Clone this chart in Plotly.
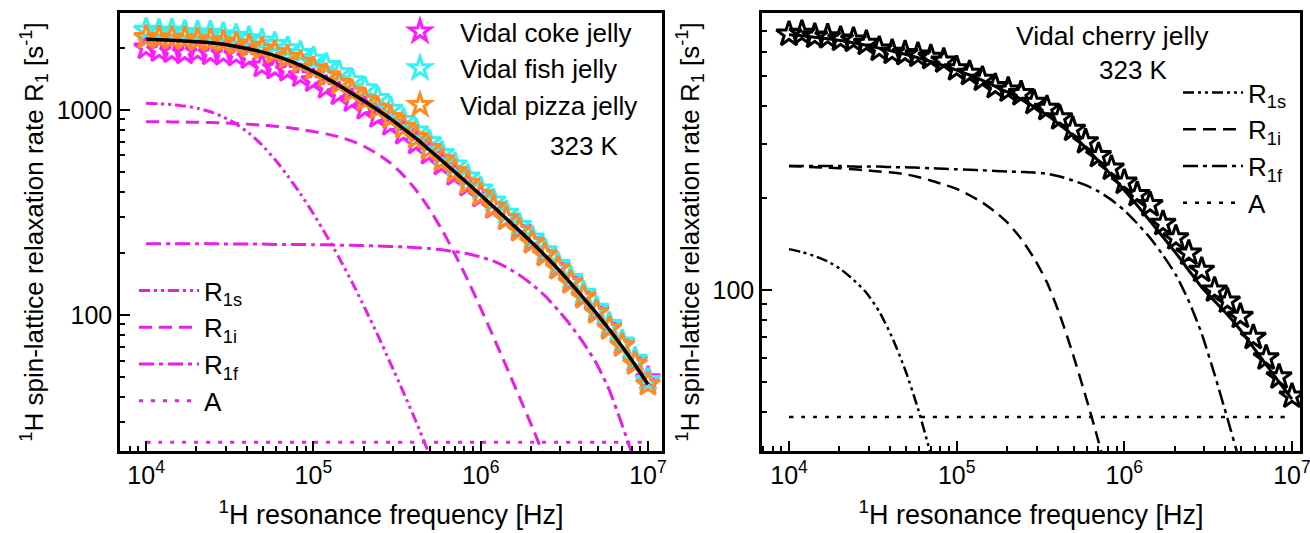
import plotly.graph_objects as go

# Proton Larmor frequencies [Hz], 13 points per decade
freq = [1.000e4, 1.194e4, 1.425e4, 1.701e4, 2.031e4, 2.424e4, 2.894e4, 3.455e4, 4.125e4, 4.924e4,
        5.878e4, 7.017e4, 8.377e4, 1.000e5, 1.194e5, 1.425e5, 1.701e5, 2.031e5, 2.424e5, 2.894e5,
        3.455e5, 4.125e5, 4.924e5, 5.878e5, 7.017e5, 8.377e5, 1.000e6, 1.194e6, 1.425e6, 1.701e6,
        2.031e6, 2.424e6, 2.894e6, 3.455e6, 4.125e6, 4.924e6, 5.878e6, 7.017e6, 8.377e6, 1.000e7]

# --- Left panel: three jellies at 323 K ---
coke_r1 = [2010, 1950, 1920, 1900, 1930, 1880, 1870, 1850, 1800, 1640, 1600, 1560, 1470, 1390, 1290,
           1200, 1110, 1020, 930, 850, 770, 690, 615, 545, 485, 430, 380, 335, 295, 262,
           228, 198, 171, 146, 124, 105, 88, 73, 60, 49]
fish_r1 = [2450, 2420, 2430, 2390, 2380, 2370, 2330, 2290, 2230, 2170, 2090, 1990, 1890, 1770, 1650,
           1520, 1390, 1270, 1140, 1010, 890, 790, 700, 615, 540, 472, 412, 360, 314, 274,
           238, 206, 177, 151, 128, 108, 90, 74, 61, 48]
pizza_r1 = [2260, 2250, 2240, 2230, 2200, 2180, 2150, 2100, 2050, 1990, 1910, 1810, 1710, 1590, 1470,
            1350, 1230, 1120, 1020, 920, 825, 735, 650, 572, 502, 440, 386, 338, 296, 259,
            226, 196, 169, 144, 122, 103, 86, 71, 58, 46]
fit_left = [2210, 2200, 2190, 2170, 2150, 2125, 2090, 2040, 1985, 1920, 1840, 1750, 1650, 1540, 1430,
            1315, 1205, 1100, 1000, 905, 812, 725, 640, 565, 498, 438, 385, 337, 295, 258,
            225, 195, 168, 143, 121, 102, 85, 70, 57, 46]
r1s_left = [1078, 1072, 1062, 1045, 1020, 980, 925, 855, 770, 675, 575, 478, 390, 312, 245,
            190, 145, 108, 80, 58, 42, 30, 21, 15]
r1i_left = [877, 876, 875, 873, 871, 868, 864, 859, 852, 844, 834, 821, 805, 785, 765,
            740, 705, 662, 610, 550, 480, 405, 330, 260, 198, 148, 108, 78, 56, 40,
            28.5, 20]
r1f_left = [223, 223, 223, 223, 223, 223, 222, 222, 222, 222, 221, 221, 221, 220, 220,
            219, 219, 218, 217, 216, 215, 213, 211, 208, 204, 199, 192, 183, 171, 157,
            141, 124, 106, 89, 73, 58, 43, 29, 19, 12]
a_left = 24

# --- Right panel: cherry jelly at 323 K ---
cherry_r1 = [685, 690, 675, 672, 660, 655, 640, 612, 598, 592, 585, 575, 560, 528, 510,
             488, 462, 450, 438, 410, 392, 365, 335, 305, 275, 250, 225, 205, 190, 165,
             148, 132, 116, 100, 92, 82, 70, 60, 52, 45]
fit_right = [682, 677, 670, 662, 653, 642, 630, 617, 603, 589, 574, 558, 541, 523, 504,
             484, 463, 442, 420, 397, 373, 347, 320, 292, 264, 237, 212, 189, 168, 149,
             132, 116, 102, 92, 83, 74, 65, 57, 50, 44]
r1s_right = [136, 133, 129, 124, 117, 108, 98, 85, 70, 55, 41, 29, 20]
r1i_right = [254, 253, 252, 251, 250, 248, 246, 244, 242, 239, 234, 228, 221, 214, 204,
             193, 180, 165, 147, 127, 106, 83, 62, 45, 32, 22]
r1f_right = [254, 254, 254, 254, 254, 253, 253, 253, 252, 252, 251, 250, 249, 248, 247,
             246, 245, 244, 243, 242, 240, 235, 228, 220, 210, 197, 182, 165, 148, 130,
             112, 92, 72, 53, 38, 27, 19]
a_right = 38.5

x_tickvals = [1e4, 1e5, 1e6, 1e7]
x_ticktext = ["10<sup>4</sup>", "10<sup>5</sup>", "10<sup>6</sup>", "10<sup>7</sup>"]
x_minor = [k * 10 ** e for e in range(3, 7) for k in range(2, 10)]
y_minor = [k * 10 ** e for e in range(1, 4) for k in range(2, 10)]

MAGENTA = "#e61ee6"
FONT = "Liberation Sans, Arial, sans-serif"

fig = go.Figure()

def stars(y, color, name, xa, ya, legend, size, show=True):
    fig.add_trace(go.Scatter(
        x=freq, y=y, mode="markers", name=name, xaxis=xa, yaxis=ya, legend=legend,
        showlegend=show,
        marker=dict(symbol="star-open", size=size, color=color, line=dict(width=3, color=color))))

def curve(y, color, dash, width, name, xa, ya, legend, show=True):
    fig.add_trace(go.Scatter(
        x=freq[:len(y)], y=y, mode="lines", name=name, xaxis=xa, yaxis=ya, legend=legend,
        showlegend=show, line=dict(color=color, dash=dash, width=width, shape="spline", smoothing=0.6)))

DASH_S = "11px,4px,3px,4px,3px,4px"
DASH_I = "13px,7px"
DASH_F = "15px,5px,4px,5px"
DASH_A = "4px,8px"

# left panel
stars(coke_r1, "#ff1aff", "Vidal coke jelly", "x", "y", "legend", 18)
stars(fish_r1, "#33f2f2", "Vidal fish jelly", "x", "y", "legend", 18)
stars(pizza_r1, "#ff8a1f", "Vidal pizza jelly", "x", "y", "legend", 18)
curve(fit_left, "black", "solid", 3.5, "fit", "x", "y", "legend", show=False)
curve(r1s_left, MAGENTA, DASH_S, 3, "R<sub>1s</sub>", "x", "y", "legend2")
curve(r1i_left, MAGENTA, DASH_I, 3, "R<sub>1i</sub>", "x", "y", "legend2")
curve(r1f_left, MAGENTA, DASH_F, 3, "R<sub>1f</sub>", "x", "y", "legend2")
curve([a_left] * len(freq), MAGENTA, DASH_A, 3, "A", "x", "y", "legend2")

# right panel
stars(cherry_r1, "black", "Vidal cherry jelly", "x2", "y2", "legend3", 19, show=False)
curve(fit_right, "black", "solid", 3, "fit", "x2", "y2", "legend3", show=False)
curve(r1s_right, "black", DASH_S, 2.5, "R<sub>1s</sub>", "x2", "y2", "legend3")
curve(r1i_right, "black", DASH_I, 2.5, "R<sub>1i</sub>", "x2", "y2", "legend3")
curve(r1f_right, "black", DASH_F, 2.5, "R<sub>1f</sub>", "x2", "y2", "legend3")
curve([a_right] * len(freq), "black", DASH_A, 2.5, "A", "x2", "y2", "legend3")

W, H = 1310, 533

def axis(domain, rng, tickvals, ticktext, minor, title, tsize, standoff, anchor):
    return dict(
        type="log", domain=domain, range=rng, anchor=anchor,
        showline=True, linecolor="black", linewidth=2.5, mirror=True,
        ticks="inside", ticklen=10, tickwidth=2, tickcolor="black",
        tickmode="array", tickvals=tickvals, ticktext=ticktext,
        tickfont=dict(size=25, color="black", family=FONT),
        ticklabeloverflow="allow",
        minor=dict(ticks="inside", ticklen=5, tickwidth=1.5, tickcolor="black",
                   tickmode="array", tickvals=minor, showgrid=False),
        showgrid=False, zeroline=False, automargin=False,
        title=dict(text=title, font=dict(size=tsize, color="black", family=FONT), standoff=standoff),
    )

xtitle = "<sup>1</sup>H resonance frequency [Hz]"
ytitle = "<sup>1</sup>H spin-lattice relaxation rate R<sub>1</sub> [s<sup>-1</sup>]"

left_dom = [120 / W, 662 / W]
right_dom = [762 / W, 1300 / W]
y_dom = [1 - 451 / H, 1 - 13 / H]

fig.update_layout(
    width=W, height=H, margin=dict(l=0, r=0, t=0, b=0),
    paper_bgcolor="white", plot_bgcolor="white",
    font=dict(family=FONT, color="black"),
    xaxis=axis(left_dom, [3.844, 7.084], x_tickvals, x_ticktext, x_minor, xtitle, 27, 18, "y"),
    yaxis=axis(y_dom, [1.337, 3.473], [100, 1000], ["100", "1000"], y_minor, ytitle, 26, 6, "x"),
    xaxis2=axis(right_dom, [3.839, 7.048], x_tickvals, x_ticktext, x_minor, xtitle, 27, 18, "y2"),
    yaxis2=axis(y_dom, [1.474, 2.905], [100], ["100"], y_minor, ytitle, 26, 6, "x2"),
    legend=dict(x=380 / W, y=1 - 8 / H, xanchor="left", yanchor="top", bgcolor="rgba(0,0,0,0)",
                font=dict(size=26, family=FONT), itemsizing="trace", itemwidth=70, tracegroupgap=0),
    legend2=dict(x=134 / W, y=1 - 267 / H, xanchor="left", yanchor="top", bgcolor="rgba(0,0,0,0)",
                 font=dict(size=26, family=FONT), itemwidth=60, tracegroupgap=0),
    legend3=dict(x=1178 / W, y=1 - 69 / H, xanchor="left", yanchor="top", bgcolor="rgba(0,0,0,0)",
                 font=dict(size=26, family=FONT), itemwidth=60, tracegroupgap=0),
    annotations=[
        dict(text="323 K", x=6.62, y=2.824, xref="x", yref="y", showarrow=False,
             font=dict(size=26, family=FONT, color="black")),
        dict(text="Vidal cherry jelly", x=5.932, y=2.83, xref="x2", yref="y2", showarrow=False,
             font=dict(size=26.5, family=FONT, color="black")),
        dict(text="323 K", x=6.057, y=2.719, xref="x2", yref="y2", showarrow=False,
             font=dict(size=26, family=FONT, color="black")),
    ],
)

fig.write_html("out.html")
